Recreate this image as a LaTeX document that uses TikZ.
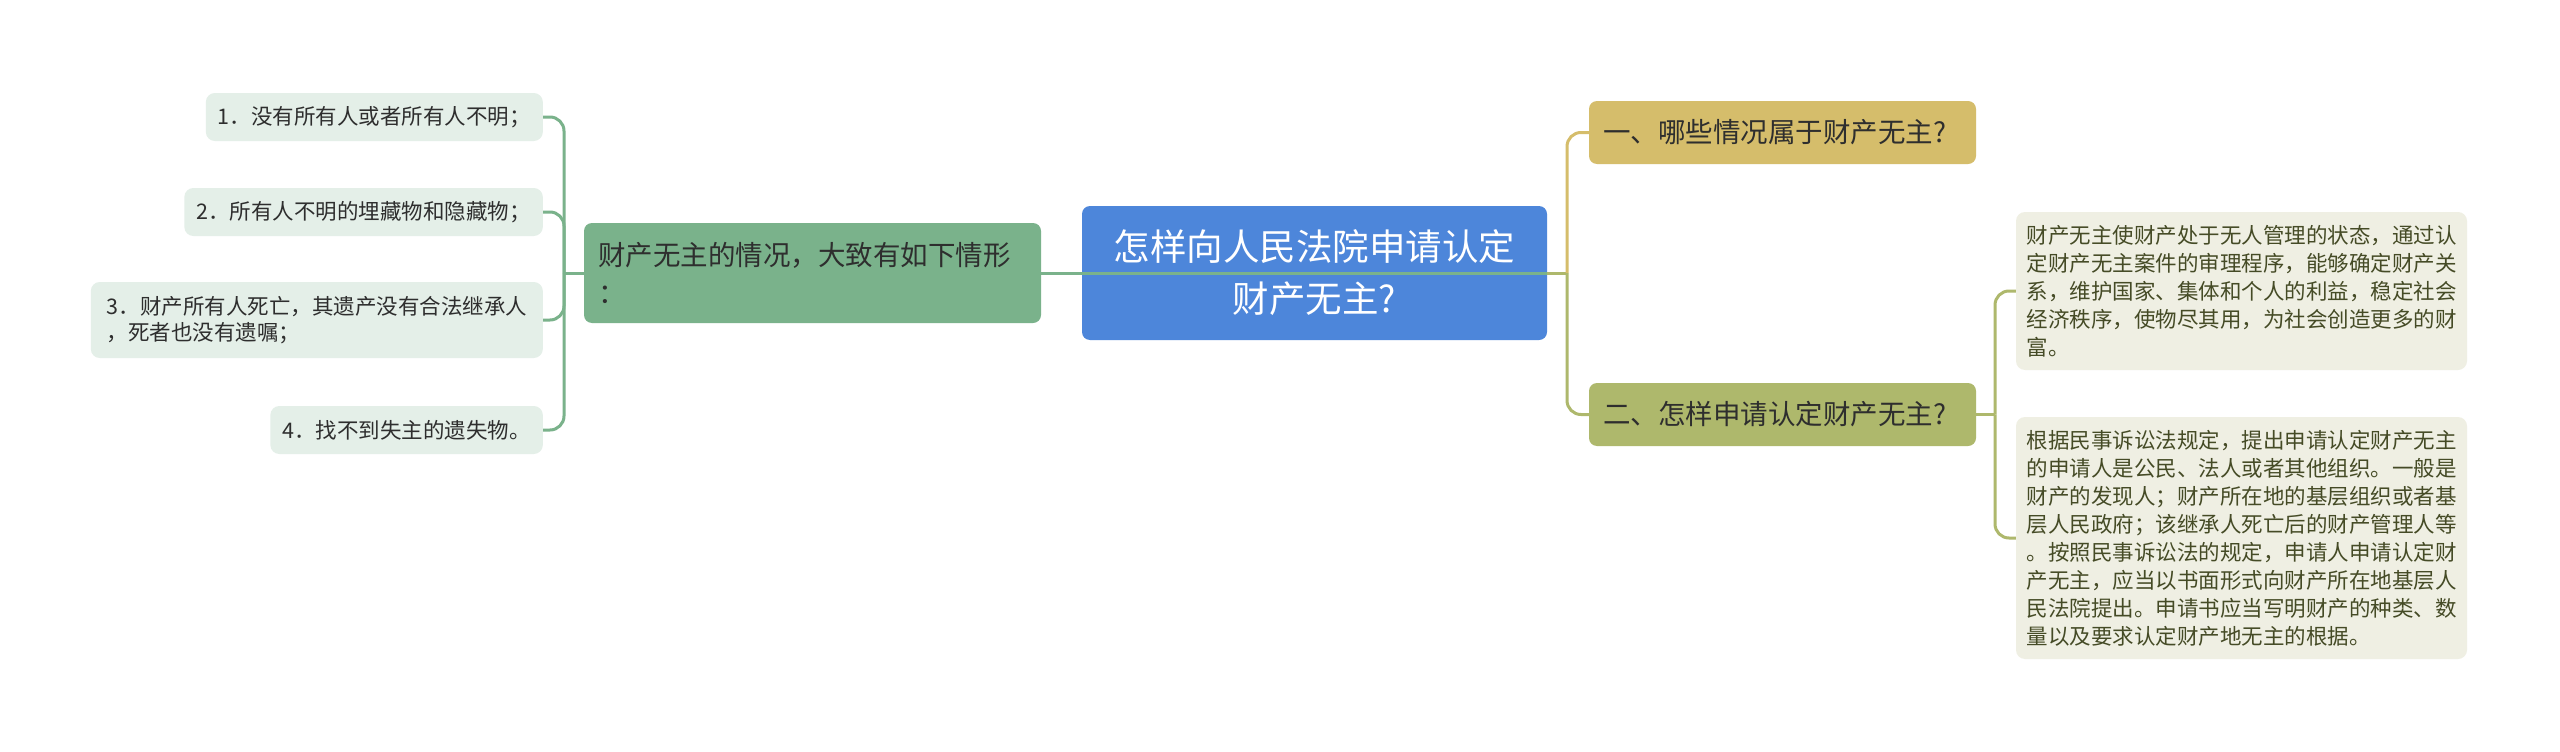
\documentclass[tikz,border=0pt]{standalone}
\usepackage{fontspec}
\setmainfont{Noto Sans CJK SC}

\definecolor{rootblue}{HTML}{4D86DA}
\definecolor{lgreen}{HTML}{7AB28B}
\definecolor{lleaf}{HTML}{E4EFE8}
\definecolor{gold}{HTML}{D5BD6B}
\definecolor{olive}{HTML}{AEB86C}
\definecolor{rleaf}{HTML}{EFEFE3}
\definecolor{textdark}{HTML}{2E2E2E}
\definecolor{textolive}{HTML}{454B26}

\begin{document}
\begin{tikzpicture}
 [x=1pt, y=-1pt,
  root node/.style={rectangle, rounded corners=8pt, fill=rootblue, text=white, minimum width=465pt, minimum height=134pt, align=center, font=\fontsize{36.5}{52}\selectfont},
  side node/.style={rectangle, rounded corners=8pt, fill=#1, text=textdark, inner xsep=14pt, align=left, font=\fontsize{27.5}{38}\selectfont},
  leaf node/.style={rectangle, rounded corners=9pt, fill=lleaf, text=textdark, anchor=east, inner xsep=12pt, minimum height=48pt, align=left, font=\fontsize{21.5}{26}\selectfont},
  note node/.style={rectangle, rounded corners=9pt, fill=rleaf, text=textolive, inner xsep=10.5pt, text width=430pt, align=left, font=\fontsize{21.5}{28}\selectfont},
  link/.style={draw=#1, line width=3pt},
  elbow/.style={rounded corners=14pt, to path={|- (\tikztotarget)}}]

\fill[white] (0,0) rectangle (2560,752);
\useasboundingbox (0,0) rectangle (2560,752);

\node[root node] (0) at (1314.5,273) {怎样向人民法院申请认定\\财产无主?};
\node[side node=lgreen, text width=429pt, minimum height=100pt] (1) [node distance=502pt, left of=0] {财产无主的情况，大致有如下情形\\：};

\node[leaf node] (11) at (543,117) {1．没有所有人或者所有人不明；};
\node[leaf node] (12) at (543,212) {2．所有人不明的埋藏物和隐藏物；};
\node[leaf node, minimum width=452pt, minimum height=76pt] (13) at (543,320) {3．财产所有人死亡，其遗产没有合法继承人\\，死者也没有遗嘱；};
\node[leaf node] (14) at (543,430) {4．找不到失主的遗失物。};

\node[side node=gold, text width=359pt, minimum height=63pt] (2) at (1782.5,132.5) {一、哪些情况属于财产无主?};
\node[side node=olive, text width=359pt, minimum height=63pt] (3) at (1782.5,414.5) {二、怎样申请认定财产无主?};

\node[note node, minimum height=158pt] (31) at (2241.5,291) {财产无主使财产处于无人管理的状态，通过认\\定财产无主案件的审理程序，能够确定财产关\\系，维护国家、集体和个人的利益，稳定社会\\经济秩序，使物尽其用，为社会创造更多的财\\富。};
\node[note node, minimum height=242pt] (32) at (2241.5,538) {根据民事诉讼法规定，提出申请认定财产无主\\的申请人是公民、法人或者其他组织。一般是\\财产的发现人；财产所在地的基层组织或者基\\层人民政府；该继承人死亡后的财产管理人等\\。按照民事诉讼法的规定，申请人申请认定财\\产无主，应当以书面形式向财产所在地基层人\\民法院提出。申请书应当写明财产的种类、数\\量以及要求认定财产地无主的根据。};

\coordinate (j1) at (564,273);
\coordinate (j0) at (1567,273);
\coordinate (j3) at (1995,414.5);

\path
  (1) edge [link=lgreen] (0.east)
  (j1) edge [link=lgreen] (1)
  (j1) edge [link=lgreen, elbow] (11)
  (j1) edge [link=lgreen, elbow] (12)
  (j1) edge [link=lgreen, elbow] (13)
  (j1) edge [link=lgreen, elbow] (14)

  (0) edge [link=olive] (j0)
  (j0) edge [link=gold, elbow] (2)
  (j0) edge [link=olive, elbow] (3)

  (3) edge [link=olive] (j3)
  (j3) edge [link=olive, elbow] (31)
  (j3) edge [link=olive, elbow] (32);

\end{tikzpicture}
\end{document}
